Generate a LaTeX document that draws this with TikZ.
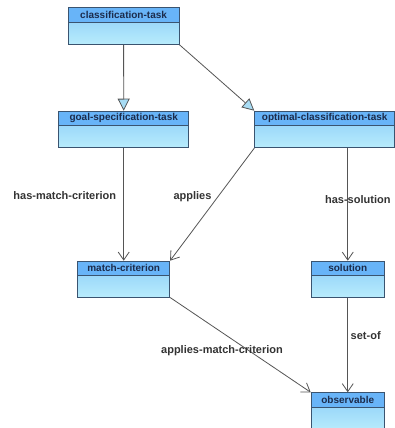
\documentclass[tikz,border=0pt]{standalone}
\usepackage{fontspec}
\setmainfont{Liberation Sans}
\usetikzlibrary{arrows.meta}
\definecolor{headcol}{HTML}{68B4F8}
\definecolor{bodytop}{HTML}{8ACCF8}
\definecolor{bodybot}{HTML}{B8ECFC}
\definecolor{bordercol}{HTML}{3A5470}
\definecolor{titlecol}{HTML}{1C2C4C}
\definecolor{linecol}{HTML}{555555}
\definecolor{tricol}{HTML}{A8DCF4}
\begin{document}
\begin{tikzpicture}[x=1pt,y=-1pt,
  classbox/.style={draw=bordercol, line width=0.8pt, inner sep=0pt, anchor=north west,
    path picture={
      \shade[top color=bodytop, bottom color=bodybot]
        (path picture bounding box.south west) rectangle (path picture bounding box.north east);
      \fill[headcol] (path picture bounding box.north west) rectangle ([yshift=-14.7pt]path picture bounding box.north east);
      \draw[bordercol, line width=0.8pt] ([yshift=-14.7pt]path picture bounding box.north west) -- ([yshift=-14.7pt]path picture bounding box.north east);
    }},
  title/.style={font=\fontsize{10}{12}\selectfont\bfseries, text=titlecol, inner sep=0pt},
  lbl/.style={font=\fontsize{11}{13}\selectfont\bfseries, text=black!80, inner sep=0pt},
  gen/.style={draw=linecol, line width=0.8pt, -{Triangle[open, fill=tricol, length=12pt, width=12pt]}},
  assoc/.style={draw=linecol, line width=0.8pt, -{Straight Barb[length=8pt, width=11pt]}}
]
\useasboundingbox (0,0) rectangle (395,428);
\clip (0,0) rectangle (395,428);
\fill[white] (0,0) rectangle (395,428);

% classes
\node[classbox, minimum width=111pt, minimum height=36.7pt] (ct) at (67.7,7.3) {};
\node[title] (ctt) at ([yshift=-7.4pt]ct.north) {classification-task};

\node[classbox, minimum width=130pt, minimum height=36.6pt] (gst) at (58.3,110.7) {};
\node[title] (gstt) at ([yshift=-7.4pt]gst.north) {goal-specification-task};

\node[classbox, minimum width=140pt, minimum height=36.6pt] (oct) at (254.3,110.7) {};
\node[title] (octt) at ([yshift=-7.4pt]oct.north) {optimal-classification-task};

\node[classbox, minimum width=92pt, minimum height=36pt] (mc) at (77.3,260.7) {};
\node[title] (mct) at ([yshift=-7.4pt]mc.north) {match-criterion};

\node[classbox, minimum width=73.3pt, minimum height=36pt] (sol) at (310.7,260.7) {};
\node[title] (solt) at ([yshift=-7.4pt]sol.north) {solution};

\node[classbox, minimum width=73.3pt, minimum height=38pt] (obs) at (310.7,392.3) {};
\node[title] (obst) at ([yshift=-7.4pt]obs.north) {observable};

% connectors
\draw[gen] (ct.south) -- (gst.north);
\draw[gen] (ct.south east) -- (oct.north west);
\draw[assoc] (gst.south) -- (mc.north);
\draw[assoc] (oct.south west) -- (mc.north east);
\draw[assoc] (oct.south -| sol.north) -- (sol.north);
\draw[assoc] (mc.south east) -- (obs.north west);
\draw[assoc] (sol.south) -- (obs.north);

% labels
\node[lbl] (l1) at (64.8,196) {has-match-criterion};
\node[lbl] (l2) at (192.5,196.7) {applies};
\node[lbl] (l3) at (357.8,199.3) {has-solution};
\node[lbl] (l4) at (222,351) {applies-match-criterion};
\node[lbl] (l5) at (365.7,336) {set-of};
\end{tikzpicture}
\end{document}
